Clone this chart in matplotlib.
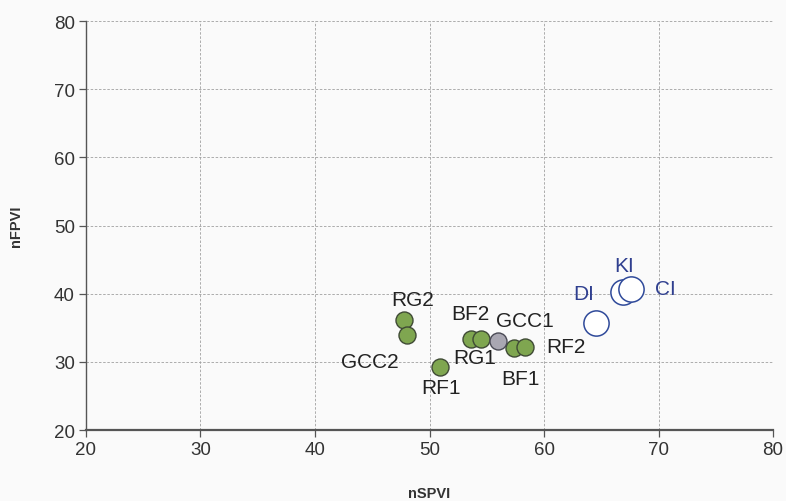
import matplotlib
matplotlib.use("Agg")
import matplotlib.pyplot as plt

plt.rcParams['font.family'] = ['Liberation Sans', 'DejaVu Sans']

# Sites (green), reference site (grey), impacted sites (blue open)
green_names = ["RG2", "GCC2", "RF1", "BF2", "RG1", "BF1", "RF2"]
green_x = [47.8, 48.0, 50.9, 53.6, 54.5, 57.4, 58.3]
green_y = [36.2, 34.0, 29.3, 33.4, 33.4, 32.0, 32.2]

grey_names = ["GCC1"]
grey_x = [56.0]
grey_y = [33.0]

blue_names = ["DI", "KI", "CI"]
blue_x = [64.5, 66.9, 67.6]
blue_y = [35.7, 40.3, 40.7]

x_ticks = [20, 30, 40, 50, 60, 70, 80]
y_ticks = [20, 30, 40, 50, 60, 70, 80]

# label offsets in pixels (dx, dy), alignment
label_offsets = {
    "RG2": (8, 20, "center", "center"),
    "GCC2": (-8, -27, "right", "center"),
    "RF1": (1, -21, "center", "center"),
    "BF2": (0, 25, "center", "center"),
    "RG1": (15, -19, "right", "center"),
    "BF1": (6, -30, "center", "center"),
    "RF2": (22, 0, "left", "center"),
    "GCC1": (-2, 21, "left", "center"),
    "DI": (-12, 30, "center", "center"),
    "KI": (1, 26, "center", "center"),
    "CI": (24, 0, "left", "center"),
}

fig = plt.figure(figsize=(7.86, 5.02), dpi=100)
fig.patch.set_facecolor("#fafafa")
ax = fig.add_axes([0.1094, 0.1414, 0.8741, 0.8146])
ax.set_facecolor("#fafafa")

ax.set_xlim(20, 80)
ax.set_ylim(20, 80)
ax.set_xticks(x_ticks)
ax.set_yticks(y_ticks)
ax.grid(True, linestyle=(0, (3, 2)), color="#a0a0a0", linewidth=0.6)
ax.set_axisbelow(True)
for s in ["top", "right"]:
    ax.spines[s].set_visible(False)
for s in ["left", "bottom"]:
    ax.spines[s].set_color("#555555")
    ax.spines[s].set_linewidth(1.0)
ax.spines["bottom"].set_linewidth(1.6)
ax.tick_params(axis="both", direction="out", length=5, width=0.9, color="#555555",
               labelsize=13.5, labelcolor="#333333", pad=3)

ax.scatter(green_x, green_y, s=150, facecolor="#7fa650", edgecolor="#3f4a35",
           linewidth=1.0, zorder=3)
ax.scatter(grey_x, grey_y, s=150, facecolor="#a9a7b2", edgecolor="#4a4a55",
           linewidth=1.0, zorder=3)
ax.scatter(blue_x, blue_y, s=330, facecolor="white", edgecolor="#2f4a9a",
           linewidth=1.1, zorder=3)


def put_labels(names, xs, ys, color):
    for n, x, y in zip(names, xs, ys):
        dx, dy, ha, va = label_offsets[n]
        ax.annotate(n, (x, y), xytext=(dx, dy), textcoords="offset pixels",
                    ha=ha, va=va, fontsize=15, color=color, zorder=4)


put_labels(green_names, green_x, green_y, "#222222")
put_labels(grey_names, grey_x, grey_y, "#222222")
put_labels(blue_names, blue_x, blue_y, "#2f3f8f")

ax.set_xlabel("nSPVI", fontsize=10.5, fontweight="bold", color="#333333", labelpad=20)
ax.set_ylabel("nFPVI", fontsize=10.5, fontweight="bold", color="#333333", labelpad=22)

fig.savefig("out.png", dpi=100, facecolor=fig.get_facecolor())
